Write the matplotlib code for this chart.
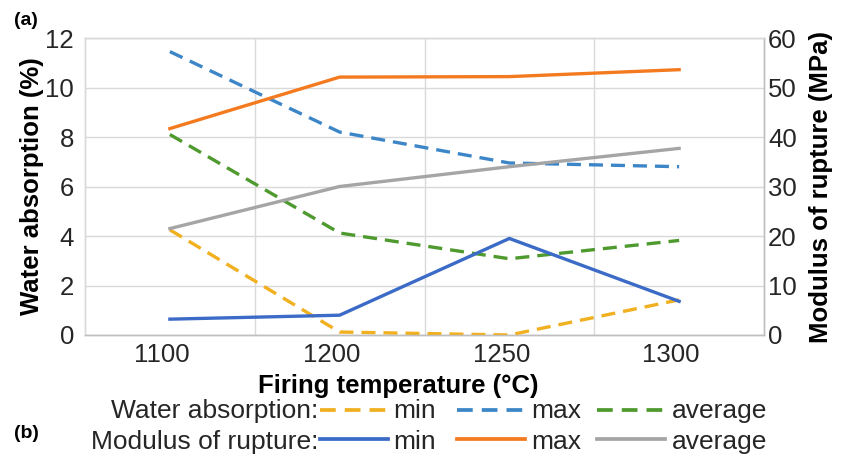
import matplotlib
matplotlib.use('Agg')
import matplotlib.pyplot as plt
from matplotlib.lines import Line2D
import matplotlib.transforms as mtransforms

categories = ['1100', '1200', '1250', '1300']
wa_min = [4.25, 0.12, 0.0, 1.42]
wa_max = [11.45, 8.2, 6.95, 6.8]
wa_avg = [8.1, 4.12, 3.08, 3.82]
mor_min = [3.2, 4.0, 19.5, 6.8]
mor_max = [41.7, 52.1, 52.2, 53.6]
mor_avg = [21.5, 30.0, 34.0, 37.7]

plt.rcParams['font.family'] = ['Liberation Sans', 'DejaVu Sans']

W, H = 851, 461
fig = plt.figure(figsize=(W / 100, H / 100), dpi=100)
ax = fig.add_axes([85 / W, 1 - 335 / H, 679 / W, 297 / H])

C_YEL = '#F0B020'
C_LBLUE = '#3C86C8'
C_GREEN = '#4E9A2E'
C_BLUE = '#3B6BC6'
C_ORANGE = '#F47A20'
C_GRAY = '#A5A5A5'

LW = 2.4
DASH = (4.2, 2.4)
x = list(range(len(categories)))

ax.plot(x, wa_min, color=C_YEL, lw=LW, dashes=DASH, zorder=3)
ax.plot(x, wa_max, color=C_LBLUE, lw=LW, dashes=DASH, zorder=3)
ax.plot(x, wa_avg, color=C_GREEN, lw=LW, dashes=DASH, zorder=3)

ax.set_xlim(-0.5, len(categories) - 0.5)
ax.set_ylim(0, 12)
ax.set_yticks(range(0, 13, 2))
ax.set_xticks(x)
ax.set_xticklabels(categories)
ax.set_xticks([i + 0.5 for i in x[:-1]], minor=True)
ax.grid(True, axis='y', color='#D9D9D9', lw=1.0)
ax.grid(True, axis='x', which='minor', color='#D9D9D9', lw=1.0)
ax.set_axisbelow(True)

ax2 = ax.twinx()
ax2.plot(x, mor_min, color=C_BLUE, lw=LW, zorder=3)
ax2.plot(x, mor_max, color=C_ORANGE, lw=LW, zorder=3)
ax2.plot(x, mor_avg, color=C_GRAY, lw=LW, zorder=3)
ax2.set_ylim(0, 60)
ax2.set_yticks(range(0, 61, 10))

for a in (ax, ax2):
    for s in ('top', 'left'):
        a.spines[s].set_color('#D9D9D9')
    for s in ('bottom', 'right'):
        a.spines[s].set_color('#BFBFBF')
    for s in a.spines.values():
        s.set_linewidth(1.0)

TICK_FS = 18.5
ax.tick_params(axis='y', which='both', length=0, pad=8, labelsize=TICK_FS, labelcolor='#262626')
ax.tick_params(axis='x', which='both', length=0, pad=6, labelsize=TICK_FS, labelcolor='#262626')
ax2.tick_params(axis='y', length=0, pad=3, labelsize=TICK_FS, labelcolor='#262626')

shift = mtransforms.ScaledTranslation(-8 / 100, 0, fig.dpi_scale_trans)
for lab in ax.get_xticklabels():
    lab.set_transform(lab.get_transform() + shift)

LAB_FS = 18.5
ax.set_xlabel('Firing temperature (°C)', fontsize=LAB_FS, fontweight='bold', va='center')
ax.xaxis.set_label_coords((398 - 85) / 679, (335 - 386) / 297)
ax.set_ylabel('Water absorption (%)', fontsize=LAB_FS, fontweight='bold', va='center', ha='center')
ax.yaxis.set_label_coords((32 - 85) / 679, 0.5)
ax2.set_ylabel('Modulus of rupture (MPa)', fontsize=LAB_FS, fontweight='bold', va='center', ha='center', rotation=90)
ax2.yaxis.set_label_coords((821 - 85) / 679, 0.5)

fig.text(14 / W, 1 - 25 / H, '(a)', fontsize=14, fontweight='bold', ha='left', va='baseline')
fig.text(14 / W, 1 - 438 / H, '(b)', fontsize=14, fontweight='bold', ha='left', va='baseline')

# legend
LFS = 19
rows = [
    ('Water absorption:', 418, 410, [(C_YEL, DASH, 'min'), (C_LBLUE, DASH, 'max'), (C_GREEN, DASH, 'average')]),
    ('Modulus of rupture:', 449, 439, [(C_BLUE, None, 'min'), (C_ORANGE, None, 'max'), (C_GRAY, None, 'average')]),
]
seg_x = [(320, 388, 393), (457, 525, 531), (597, 665, 672)]
for title, ybase, yline, items in rows:
    fig.text(318 / W, 1 - ybase / H, title, fontsize=LFS, ha='right', va='baseline', color='#262626')
    for (col, dash, lab), (x0, x1, xt) in zip(items, seg_x):
        ln = Line2D([x0 / W, x1 / W], [1 - yline / H] * 2, transform=fig.transFigure,
                    color=col, lw=LW + 0.3)
        if dash is not None:
            ln.set_dashes(dash)
        fig.add_artist(ln)
        fig.text(xt / W, 1 - ybase / H, lab, fontsize=LFS, ha='left', va='baseline', color='#262626')

fig.savefig('out.png', dpi=100)
